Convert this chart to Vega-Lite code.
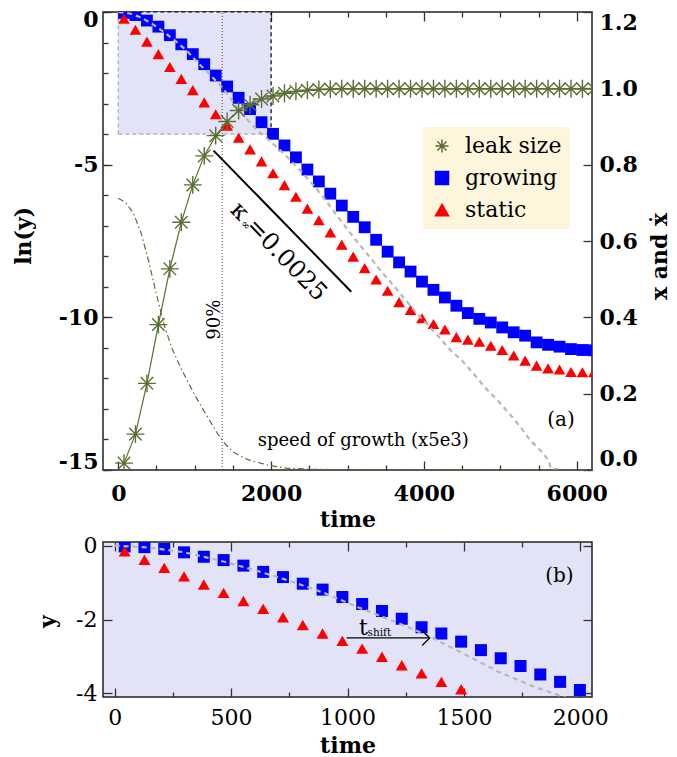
{
  "$schema": "https://vega.github.io/schema/vega-lite/v6.json",
  "padding": {"left": 11, "top": 7, "right": 0, "bottom": 0},
  "spacing": 1,
  "datasets": {
    "leak": [
      {"series": "leak size", "t": 75, "v": 0.018}, {"series": "leak size", "t": 225, "v": 0.094},
      {"series": "leak size", "t": 375, "v": 0.227}, {"series": "leak size", "t": 525, "v": 0.381},
      {"series": "leak size", "t": 675, "v": 0.527}, {"series": "leak size", "t": 825, "v": 0.649},
      {"series": "leak size", "t": 975, "v": 0.747}, {"series": "leak size", "t": 1125, "v": 0.823},
      {"series": "leak size", "t": 1275, "v": 0.876}, {"series": "leak size", "t": 1425, "v": 0.913},
      {"series": "leak size", "t": 1575, "v": 0.942}, {"series": "leak size", "t": 1725, "v": 0.957},
      {"series": "leak size", "t": 1875, "v": 0.972}, {"series": "leak size", "t": 2025, "v": 0.98},
      {"series": "leak size", "t": 2175, "v": 0.987}, {"series": "leak size", "t": 2325, "v": 0.992},
      {"series": "leak size", "t": 2475, "v": 0.995}, {"series": "leak size", "t": 2625, "v": 0.997},
      {"series": "leak size", "t": 2775, "v": 0.998}, {"series": "leak size", "t": 2925, "v": 0.999},
      {"series": "leak size", "t": 3075, "v": 0.999}, {"series": "leak size", "t": 3225, "v": 0.999},
      {"series": "leak size", "t": 3375, "v": 0.999}, {"series": "leak size", "t": 3525, "v": 0.999},
      {"series": "leak size", "t": 3675, "v": 0.999}, {"series": "leak size", "t": 3825, "v": 0.999},
      {"series": "leak size", "t": 3975, "v": 0.999}, {"series": "leak size", "t": 4125, "v": 0.999},
      {"series": "leak size", "t": 4275, "v": 0.999}, {"series": "leak size", "t": 4425, "v": 0.999},
      {"series": "leak size", "t": 4575, "v": 0.999}, {"series": "leak size", "t": 4725, "v": 0.999},
      {"series": "leak size", "t": 4875, "v": 0.999}, {"series": "leak size", "t": 5025, "v": 0.999},
      {"series": "leak size", "t": 5175, "v": 0.999}, {"series": "leak size", "t": 5325, "v": 0.999},
      {"series": "leak size", "t": 5475, "v": 0.999}, {"series": "leak size", "t": 5625, "v": 0.999},
      {"series": "leak size", "t": 5775, "v": 0.999}, {"series": "leak size", "t": 5925, "v": 0.999},
      {"series": "leak size", "t": 6075, "v": 0.999}, {"series": "leak size", "t": 6225, "v": 0.999}
    ],
    "speed": [
      {"t": 0, "v": 0.712}, {"t": 100, "v": 0.7}, {"t": 200, "v": 0.672}, {"t": 300, "v": 0.62},
      {"t": 400, "v": 0.545}, {"t": 500, "v": 0.46}, {"t": 600, "v": 0.38}, {"t": 700, "v": 0.32},
      {"t": 800, "v": 0.275}, {"t": 900, "v": 0.235}, {"t": 1000, "v": 0.197}, {"t": 1100, "v": 0.162},
      {"t": 1200, "v": 0.128}, {"t": 1300, "v": 0.095}, {"t": 1400, "v": 0.068}, {"t": 1500, "v": 0.048},
      {"t": 1600, "v": 0.036}, {"t": 1700, "v": 0.027}, {"t": 1800, "v": 0.021}, {"t": 1900, "v": 0.016},
      {"t": 2000, "v": 0.011}, {"t": 2200, "v": 0.005}, {"t": 2500, "v": 0.002}, {"t": 3000, "v": 0.0005},
      {"t": 6200, "v": 0}
    ],
    "growing": [
      {"series": "growing", "t": 75, "ln": -0.03}, {"series": "growing", "t": 225, "ln": -0.1},
      {"series": "growing", "t": 375, "ln": -0.28}, {"series": "growing", "t": 525, "ln": -0.48},
      {"series": "growing", "t": 675, "ln": -0.76}, {"series": "growing", "t": 825, "ln": -1.06},
      {"series": "growing", "t": 975, "ln": -1.38}, {"series": "growing", "t": 1125, "ln": -1.71},
      {"series": "growing", "t": 1275, "ln": -2.08}, {"series": "growing", "t": 1425, "ln": -2.44},
      {"series": "growing", "t": 1575, "ln": -2.81}, {"series": "growing", "t": 1725, "ln": -3.18},
      {"series": "growing", "t": 1875, "ln": -3.61}, {"series": "growing", "t": 2025, "ln": -3.99},
      {"series": "growing", "t": 2175, "ln": -4.37}, {"series": "growing", "t": 2325, "ln": -4.76},
      {"series": "growing", "t": 2475, "ln": -5.16}, {"series": "growing", "t": 2625, "ln": -5.55},
      {"series": "growing", "t": 2775, "ln": -5.95}, {"series": "growing", "t": 2925, "ln": -6.34},
      {"series": "growing", "t": 3075, "ln": -6.71}, {"series": "growing", "t": 3225, "ln": -7.05},
      {"series": "growing", "t": 3375, "ln": -7.46}, {"series": "growing", "t": 3525, "ln": -7.85},
      {"series": "growing", "t": 3675, "ln": -8.2}, {"series": "growing", "t": 3825, "ln": -8.5},
      {"series": "growing", "t": 3975, "ln": -8.83}, {"series": "growing", "t": 4125, "ln": -9.1},
      {"series": "growing", "t": 4275, "ln": -9.35}, {"series": "growing", "t": 4425, "ln": -9.62},
      {"series": "growing", "t": 4575, "ln": -9.86}, {"series": "growing", "t": 4725, "ln": -10.05},
      {"series": "growing", "t": 4875, "ln": -10.17}, {"series": "growing", "t": 5025, "ln": -10.33},
      {"series": "growing", "t": 5175, "ln": -10.49}, {"series": "growing", "t": 5325, "ln": -10.6},
      {"series": "growing", "t": 5475, "ln": -10.82}, {"series": "growing", "t": 5625, "ln": -10.9},
      {"series": "growing", "t": 5775, "ln": -10.96}, {"series": "growing", "t": 5925, "ln": -11.04},
      {"series": "growing", "t": 6075, "ln": -11.07}, {"series": "growing", "t": 6225, "ln": -11.08}
    ],
    "static": [
      {"series": "static", "t": 75, "ln": -0.22}, {"series": "static", "t": 225, "ln": -0.58},
      {"series": "static", "t": 375, "ln": -0.97}, {"series": "static", "t": 525, "ln": -1.38},
      {"series": "static", "t": 675, "ln": -1.8}, {"series": "static", "t": 825, "ln": -2.19},
      {"series": "static", "t": 975, "ln": -2.56}, {"series": "static", "t": 1125, "ln": -2.96},
      {"series": "static", "t": 1275, "ln": -3.35}, {"series": "static", "t": 1425, "ln": -3.72},
      {"series": "static", "t": 1575, "ln": -4.12}, {"series": "static", "t": 1725, "ln": -4.5},
      {"series": "static", "t": 1875, "ln": -4.89}, {"series": "static", "t": 2025, "ln": -5.28},
      {"series": "static", "t": 2175, "ln": -5.67}, {"series": "static", "t": 2325, "ln": -6.05},
      {"series": "static", "t": 2475, "ln": -6.44}, {"series": "static", "t": 2625, "ln": -6.82},
      {"series": "static", "t": 2775, "ln": -7.22}, {"series": "static", "t": 2925, "ln": -7.62},
      {"series": "static", "t": 3075, "ln": -8.01}, {"series": "static", "t": 3225, "ln": -8.39},
      {"series": "static", "t": 3375, "ln": -8.76}, {"series": "static", "t": 3525, "ln": -9.13},
      {"series": "static", "t": 3675, "ln": -9.5}, {"series": "static", "t": 3825, "ln": -9.76},
      {"series": "static", "t": 3975, "ln": -10.03}, {"series": "static", "t": 4125, "ln": -10.22},
      {"series": "static", "t": 4275, "ln": -10.4}, {"series": "static", "t": 4425, "ln": -10.65},
      {"series": "static", "t": 4575, "ln": -10.73}, {"series": "static", "t": 4725, "ln": -10.8},
      {"series": "static", "t": 4875, "ln": -10.93}, {"series": "static", "t": 5025, "ln": -11.07},
      {"series": "static", "t": 5175, "ln": -11.25}, {"series": "static", "t": 5325, "ln": -11.42},
      {"series": "static", "t": 5475, "ln": -11.58}, {"series": "static", "t": 5625, "ln": -11.67},
      {"series": "static", "t": 5775, "ln": -11.71}, {"series": "static", "t": 5925, "ln": -11.79},
      {"series": "static", "t": 6075, "ln": -11.8}, {"series": "static", "t": 6225, "ln": -11.8}
    ],
    "shifted": [
      {"t": 0, "ln": 0}, {"t": 150, "ln": -0.05}, {"t": 300, "ln": -0.18}, {"t": 450, "ln": -0.4},
      {"t": 600, "ln": -0.66}, {"t": 750, "ln": -0.95}, {"t": 900, "ln": -1.28}, {"t": 1050, "ln": -1.68},
      {"t": 1200, "ln": -2.05}, {"t": 1350, "ln": -2.45}, {"t": 1500, "ln": -2.93}, {"t": 1650, "ln": -3.42},
      {"t": 1800, "ln": -3.82}, {"t": 1950, "ln": -4.15}, {"t": 2100, "ln": -4.48}, {"t": 2250, "ln": -4.85},
      {"t": 2400, "ln": -5.24}, {"t": 2550, "ln": -5.66}, {"t": 2700, "ln": -6.12}, {"t": 2850, "ln": -6.63},
      {"t": 3000, "ln": -7.12}, {"t": 3150, "ln": -7.6}, {"t": 3300, "ln": -8.05}, {"t": 3450, "ln": -8.52},
      {"t": 3600, "ln": -8.95}, {"t": 3750, "ln": -9.4}, {"t": 3900, "ln": -9.85}, {"t": 4050, "ln": -10.25},
      {"t": 4200, "ln": -10.65}, {"t": 4350, "ln": -11.08}, {"t": 4500, "ln": -11.42}, {"t": 4650, "ln": -11.85},
      {"t": 4800, "ln": -12.3}, {"t": 4950, "ln": -12.68}, {"t": 5100, "ln": -13.1}, {"t": 5250, "ln": -13.55},
      {"t": 5400, "ln": -14.05}, {"t": 5550, "ln": -14.42}, {"t": 5640, "ln": -14.72}, {"t": 5660, "ln": -14.97},
      {"t": 5770, "ln": -14.97}
    ],
    "growingEarly": [
      {"t": 43, "ln": -0.02}, {"t": 128, "ln": -0.04}, {"t": 213, "ln": -0.09}, {"t": 298, "ln": -0.18},
      {"t": 383, "ln": -0.3}, {"t": 468, "ln": -0.39}, {"t": 553, "ln": -0.54}, {"t": 638, "ln": -0.71},
      {"t": 723, "ln": -0.85}, {"t": 808, "ln": -1.03}, {"t": 893, "ln": -1.19}, {"t": 978, "ln": -1.39},
      {"t": 1063, "ln": -1.58}, {"t": 1148, "ln": -1.77}, {"t": 1233, "ln": -1.98}, {"t": 1318, "ln": -2.21},
      {"t": 1403, "ln": -2.38}, {"t": 1488, "ln": -2.6}, {"t": 1573, "ln": -2.83}, {"t": 1658, "ln": -3.05},
      {"t": 1743, "ln": -3.26}, {"t": 1828, "ln": -3.49}, {"t": 1913, "ln": -3.69}, {"t": 1998, "ln": -3.91}
    ],
    "staticEarly": [
      {"t": 43, "ln": -0.15}, {"t": 128, "ln": -0.38}, {"t": 213, "ln": -0.6}, {"t": 298, "ln": -0.83},
      {"t": 383, "ln": -1.05}, {"t": 468, "ln": -1.28}, {"t": 553, "ln": -1.5}, {"t": 638, "ln": -1.71},
      {"t": 723, "ln": -1.94}, {"t": 808, "ln": -2.15}, {"t": 893, "ln": -2.38}, {"t": 978, "ln": -2.58},
      {"t": 1063, "ln": -2.79}, {"t": 1148, "ln": -3.01}, {"t": 1233, "ln": -3.24}, {"t": 1318, "ln": -3.46},
      {"t": 1403, "ln": -3.69}, {"t": 1488, "ln": -3.89}
    ],
    "one": [{}]
  },
  "vconcat": [
    {
      "width": 489,
      "height": 458,
      "layer": [
        {
          "layer": [
            {
              "data": {"name": "one"},
              "mark": {"type": "rect", "color": "#e3e3f8"},
              "encoding": {
                "x": {"datum": 0, "type": "quantitative", "scale": {"domain": [-200, 6200], "nice": false, "zero": false},
                  "axis": {"orient": "bottom", "values": [0, 500, 1000, 1500, 2000, 2500, 3000, 3500, 4000, 4500, 5000, 5500, 6000],
                    "format": "d", "labelExpr": "datum.value % 2000 === 0 ? datum.label : ''", "labelFontWeight": "bold",
                    "labelFlush": false, "labelOverlap": false, "labelBaseline": "middle",
                    "tickSize": {"condition": {"test": "datum.value % 2000 === 0", "value": -9}, "value": -5},
                    "labelPadding": 32, "title": "time", "titleY": 49.5, "titleBaseline": "middle"}},
                "x2": {"datum": 2000},
                "y": {"datum": -4, "type": "quantitative", "scale": {"domain": [-15, 0], "nice": false, "zero": false},
                  "axis": {"orient": "left", "values": [-15, -10, -5, 0],
                    "labelExpr": "'' + datum.value", "labelFontWeight": "bold",
                    "labelFlush": true, "labelFlushOffset": 3, "labelOverlap": false,
                    "tickSize": -9, "labelPadding": 14, "title": "ln(y)", "titleAngle": 270, "titleX": -79.7, "titleY": 223.3,
                    "titleBaseline": "middle", "titleAlign": "center"}},
                "y2": {"datum": 0}
              }
            },
            {
              "data": {"name": "one"},
              "mark": {"type": "rule", "color": "#000", "strokeDash": [4, 3], "strokeWidth": 1.2},
              "encoding": {"x": {"datum": 2000, "type": "quantitative"}, "y": {"datum": -4, "type": "quantitative"}, "y2": {"datum": 0}}
            },
            {
              "data": {"name": "one"},
              "mark": {"type": "rule", "color": "#000", "strokeDash": [4, 3], "strokeWidth": 1.2},
              "encoding": {"x": {"datum": 0, "type": "quantitative"}, "x2": {"datum": 2000}, "y": {"datum": 0, "type": "quantitative"}}
            },
            {
              "data": {"name": "one"},
              "mark": {"type": "rule", "color": "#aaaaaa", "strokeDash": [4, 3], "strokeWidth": 1.2},
              "encoding": {"x": {"datum": 0, "type": "quantitative"}, "x2": {"datum": 2000}, "y": {"datum": -4, "type": "quantitative"}}
            },
            {
              "data": {"name": "one"},
              "mark": {"type": "rule", "color": "#aaaaaa", "strokeDash": [4, 3], "strokeWidth": 1.2},
              "encoding": {"x": {"datum": 0, "type": "quantitative"}, "y": {"datum": -4, "type": "quantitative"}, "y2": {"datum": 0}}
            },
            {
              "data": {"name": "growing"},
              "mark": {"type": "point", "shape": "square", "filled": true, "size": 140, "opacity": 1, "clip": true},
              "encoding": {
                "x": {"field": "t", "type": "quantitative"},
                "y": {"field": "ln", "type": "quantitative"},
                "color": {"field": "series", "type": "nominal",
                  "scale": {"domain": ["leak size", "growing", "static"], "range": ["#5b6f35", "#0000ff", "#ff0000"]},
                  "legend": {"title": null, "orient": "none", "legendX": 320, "legendY": 115, "fillColor": "#fdf6dc", "padding": 8,
                    "labelFont": "DejaVu Serif", "labelFontSize": 22, "labelColor": "#000", "symbolSize": 170, "rowPadding": 10,
                    "labelOffset": 12,
                    "encode": {"symbols": {"update": {
                      "fill": {"signal": "datum.value === 'leak size' ? 'transparent' : (datum.value === 'growing' ? '#0000ff' : '#ff0000')"},
                      "stroke": {"signal": "datum.value === 'leak size' ? '#5b6f35' : 'transparent'"},
                      "strokeWidth": {"value": 1.4}}}}}},
                "shape": {"field": "series", "type": "nominal",
                  "scale": {"domain": ["leak size", "growing", "static"],
                    "range": ["M-1,0L1,0M0,-1L0,1M-0.7,-0.7L0.7,0.7M-0.7,0.7L0.7,-0.7", "square", "triangle-up"]},
                  "legend": {"title": null, "orient": "none", "legendX": 320, "legendY": 115}}
              }
            },
            {
              "data": {"name": "static"},
              "mark": {"type": "point", "filled": true, "size": 137, "opacity": 1, "clip": true},
              "encoding": {
                "x": {"field": "t", "type": "quantitative"},
                "y": {"field": "ln", "type": "quantitative"},
                "color": {"field": "series", "type": "nominal"},
                "shape": {"field": "series", "type": "nominal"}
              }
            },
            {
              "data": {"name": "shifted"},
              "mark": {"type": "line", "color": "#b8b8b8", "strokeWidth": 2.2, "strokeDash": [5, 4], "clip": true},
              "encoding": {"x": {"field": "t", "type": "quantitative"}, "y": {"field": "ln", "type": "quantitative"}}
            },
            {
              "data": {"name": "one"},
              "mark": {"type": "rule", "color": "#000", "strokeWidth": 2},
              "encoding": {"x": {"datum": 1247, "type": "quantitative"}, "x2": {"datum": 3049},
                "y": {"datum": -4.54, "type": "quantitative"}, "y2": {"datum": -9.16}}
            },
            {
              "data": {"name": "one"},
              "mark": {"type": "text", "text": "κ =0.0025", "fontSize": 24, "angle": 46, "align": "center", "baseline": "middle"},
              "encoding": {"x": {"datum": 2094, "type": "quantitative"}, "y": {"datum": -7.85, "type": "quantitative"}}
            },
            {
              "data": {"name": "one"},
              "mark": {"type": "text", "text": "∞", "fontSize": 11, "angle": 46, "align": "center", "baseline": "middle"},
              "encoding": {"x": {"datum": 1662, "type": "quantitative"}, "y": {"datum": -6.99, "type": "quantitative"}}
            },
            {
              "data": {"name": "one"},
              "mark": {"type": "text", "text": "90%", "fontSize": 18, "angle": 270, "align": "center", "baseline": "alphabetic"},
              "encoding": {"x": {"datum": 1335, "type": "quantitative"}, "y": {"datum": -10.08, "type": "quantitative"}}
            }
          ]
        },
        {
          "layer": [
            {
              "data": {"name": "speed"},
              "mark": {"type": "line", "color": "#5b6f35", "strokeWidth": 1.2, "strokeDash": [6, 3, 1.5, 3]},
              "encoding": {
                "x": {"field": "t", "type": "quantitative", "scale": {"domain": [-200, 6200], "nice": false, "zero": false},
                  "axis": {"orient": "top", "values": [0, 500, 1000, 1500, 2000, 2500, 3000, 3500, 4000, 4500, 5000, 5500, 6000],
                    "labels": false, "title": null,
                    "tickSize": {"condition": {"test": "datum.value % 2000 === 0", "value": -9}, "value": -5}}},
                "y": {"field": "v", "type": "quantitative", "scale": {"domain": [0, 1.2], "nice": false, "zero": false},
                  "axis": {"orient": "right", "values": [0, 0.1, 0.2, 0.3, 0.4, 0.5, 0.6, 0.7, 0.8, 0.9, 1, 1.1, 1.2],
                    "labelExpr": "round(datum.value * 10) % 2 === 0 ? format(datum.value, '.1f') : ''",
                    "labelFontWeight": "bold", "labelFlush": true, "labelOverlap": false,
                    "tickSize": {"condition": {"test": "round(datum.value * 10) % 2 === 0", "value": -9}, "value": -6},
                    "labelPadding": 16, "title": "x and ẋ", "titleAngle": 270, "titleX": 67, "titleY": 244,
                    "titleBaseline": "middle", "titleAlign": "center"}}
              }
            },
            {
              "data": {"name": "leak"},
              "mark": {"type": "line", "color": "#5b6f35", "strokeWidth": 1.2, "clip": true},
              "encoding": {"x": {"field": "t", "type": "quantitative"}, "y": {"field": "v", "type": "quantitative"}}
            },
            {
              "data": {"name": "leak"},
              "mark": {"type": "point", "filled": false, "size": 320, "strokeWidth": 1.4, "opacity": 1, "clip": true},
              "encoding": {
                "x": {"field": "t", "type": "quantitative"},
                "y": {"field": "v", "type": "quantitative"},
                "color": {"field": "series", "type": "nominal"},
                "shape": {"field": "series", "type": "nominal"}
              }
            },
            {
              "data": {"name": "one"},
              "mark": {"type": "text", "text": "speed of growth (x5e3)", "fontSize": 18, "align": "center", "baseline": "middle"},
              "encoding": {"x": {"datum": 3206, "type": "quantitative"}, "y": {"datum": 0.075, "type": "quantitative"}}
            },
            {
              "data": {"name": "one"},
              "mark": {"type": "text", "text": "(a)", "fontSize": 20, "align": "center", "baseline": "middle"},
              "encoding": {"x": {"datum": 5794, "type": "quantitative"}, "y": {"datum": 0.13, "type": "quantitative"}}
            }
          ]
        },
        {
          "data": {"name": "one"},
          "mark": {"type": "rule", "color": "#444", "strokeDash": [1, 2], "strokeWidth": 1},
          "encoding": {
            "x": {"datum": 1360, "type": "quantitative", "scale": {"domain": [-200, 6200], "nice": false, "zero": false}, "axis": null},
            "y": {"datum": -15, "type": "quantitative", "scale": {"domain": [-15, 0], "nice": false, "zero": false},
              "axis": {"orient": "left", "values": [-15, -14, -13, -12, -11, -10, -9, -8, -7, -6, -5, -4, -3, -2, -1, 0],
                "labels": false, "title": null, "tickSize": -5}},
            "y2": {"datum": 0}
          }
        }
      ],
      "resolve": {"scale": {"x": "independent", "y": "independent"}}
    },
    {
      "width": 489,
      "height": 155,
      "view": {"fill": "#e3e3f8"},
      "layer": [
        {
          "layer": [
            {
              "data": {"name": "growingEarly"},
              "mark": {"type": "point", "shape": "square", "filled": true, "size": 144, "color": "#0000ff", "opacity": 1, "clip": true},
              "encoding": {
                "x": {"field": "t", "type": "quantitative", "scale": {"domain": [-50, 2050], "nice": false, "zero": false},
                  "axis": {"orient": "bottom", "values": [0, 125, 250, 375, 500, 625, 750, 875, 1000, 1125, 1250, 1375, 1500, 1625, 1750, 1875, 2000],
                    "format": "d", "labelExpr": "datum.value % 500 === 0 ? datum.label : ''", "labelFlush": false,
                    "labelOverlap": false, "labelBaseline": "middle",
                    "tickSize": {"condition": {"test": "datum.value % 500 === 0", "value": -9}, "value": -5},
                    "labelPadding": 29, "title": "time", "titleY": 48, "titleBaseline": "middle"}},
                "y": {"field": "ln", "type": "quantitative", "scale": {"domain": [-4.1, 0.1], "nice": false, "zero": false},
                  "axis": {"orient": "left", "values": [-4, -3, -2, -1, 0],
                    "labelExpr": "datum.value % 2 === 0 ? '' + datum.value : ''", "labelFlush": false, "labelOverlap": false,
                    "tickSize": {"condition": {"test": "datum.value % 2 === 0", "value": -9}, "value": -5},
                    "labelPadding": 15, "title": "y", "titleAngle": 270, "titleX": -55.7, "titleY": 79,
                    "titleBaseline": "middle", "titleAlign": "center"}}
              }
            },
            {
              "data": {"name": "staticEarly"},
              "mark": {"type": "point", "shape": "triangle-up", "filled": true, "size": 144, "color": "#ff0000", "opacity": 1, "clip": true},
              "encoding": {"x": {"field": "t", "type": "quantitative"}, "y": {"field": "ln", "type": "quantitative"}}
            },
            {
              "data": {"name": "shifted"},
              "transform": [{"filter": "datum.t <= 2100"}],
              "mark": {"type": "line", "color": "#b8b8b8", "strokeWidth": 2.2, "strokeDash": [5, 4], "clip": true},
              "encoding": {"x": {"field": "t", "type": "quantitative"}, "y": {"field": "ln", "type": "quantitative"}}
            }
          ]
        },
        {
          "layer": [
            {
              "data": {"name": "one"},
              "mark": {"type": "rule", "color": "#000", "strokeWidth": 1.2},
              "encoding": {
                "x": {"datum": 997, "type": "quantitative", "scale": {"domain": [-50, 2050], "nice": false, "zero": false},
                  "axis": {"orient": "top", "values": [0, 125, 250, 375, 500, 625, 750, 875, 1000, 1125, 1250, 1375, 1500, 1625, 1750, 1875, 2000],
                    "labels": false, "title": null,
                    "tickSize": {"condition": {"test": "datum.value % 500 === 0", "value": -9}, "value": -5}}},
                "x2": {"datum": 1353},
                "y": {"datum": -2.5, "type": "quantitative", "scale": {"domain": [-4.1, 0.1], "nice": false, "zero": false},
                  "axis": {"orient": "right", "values": [-4, -3, -2, -1, 0], "labels": false, "title": null,
                    "tickSize": {"condition": {"test": "datum.value % 2 === 0", "value": -9}, "value": -5}}}
              }
            },
            {
              "data": {"name": "one"},
              "mark": {"type": "point", "shape": "M-1,-1L0,0L-1,1", "size": 225, "filled": false, "color": "#000", "strokeWidth": 1.2, "opacity": 1},
              "encoding": {"x": {"datum": 1353, "type": "quantitative"}, "y": {"datum": -2.5, "type": "quantitative"}}
            },
            {
              "data": {"name": "one"},
              "mark": {"type": "text", "text": "t", "fontSize": 22, "align": "left", "baseline": "alphabetic"},
              "encoding": {"x": {"datum": 1049, "type": "quantitative"}, "y": {"datum": -2.41, "type": "quantitative"}}
            },
            {
              "data": {"name": "one"},
              "mark": {"type": "text", "text": "shift", "fontSize": 10.5, "align": "left", "baseline": "alphabetic"},
              "encoding": {"x": {"datum": 1086, "type": "quantitative"}, "y": {"datum": -2.45, "type": "quantitative"}}
            },
            {
              "data": {"name": "one"},
              "mark": {"type": "text", "text": "(b)", "fontSize": 20, "align": "center", "baseline": "middle"},
              "encoding": {"x": {"datum": 1910, "type": "quantitative"}, "y": {"datum": -0.82, "type": "quantitative"}}
            }
          ]
        }
      ],
      "resolve": {"scale": {"x": "independent", "y": "independent"}}
    }
  ],
  "config": {
    "background": "white",
    "view": {"stroke": "#222", "strokeWidth": 1.5},
    "axis": {
      "domain": false, "grid": false, "labelOverlap": false, "tickColor": "#333", "tickWidth": 1.3,
      "labelFont": "DejaVu Serif", "labelFontSize": 22, "labelColor": "#000",
      "titleFont": "DejaVu Serif", "titleFontSize": 22, "titleFontWeight": "bold", "titleColor": "#000"
    },
    "text": {"font": "DejaVu Serif", "color": "#000"}
  }
}
